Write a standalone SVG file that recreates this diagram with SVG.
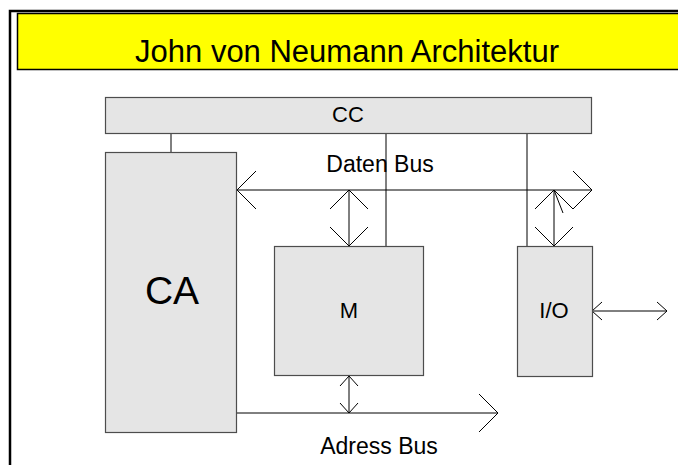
<svg xmlns="http://www.w3.org/2000/svg" width="678" height="465" viewBox="0 0 678 465">
<style>
.box{fill:#e5e5e5;stroke:#4d4d4d;stroke-width:1.2}
.ln{fill:none;stroke:#000;stroke-width:1}
.t{font-family:"Liberation Sans",Arial,sans-serif;fill:#000;text-anchor:middle}
.ah{fill:none;stroke:#000;stroke-width:1}
</style>
<defs>
<marker id="big" markerUnits="userSpaceOnUse" markerWidth="22" markerHeight="42" refX="20" refY="20" orient="auto-start-reverse" viewBox="0 0 22 42" overflow="visible">
<path class="ah" d="M1,1 L20,20 L1,39"/>
</marker>
<marker id="small" markerUnits="userSpaceOnUse" markerWidth="12" markerHeight="22" refX="11" refY="10" orient="auto-start-reverse" viewBox="0 0 12 22" overflow="visible">
<path class="ah" d="M1,1 L11,10 L1,19"/>
</marker>
</defs>
<rect width="678" height="465" fill="#fff"/>
<g id="frame">
<path d="M10,465 V11 H678" fill="none" stroke="#000" stroke-width="2.5"/>
</g>
<g id="title">
<rect x="17.5" y="13.5" width="680" height="56" fill="#ffff00" stroke="#000" stroke-width="1.5"/>
<text class="t" x="347" y="62" font-size="31">John von Neumann Architektur</text>
</g>
<g id="connectors">
<path class="ln" d="M171,134 V152"/>
<path class="ln" d="M386,134 V246"/>
<path class="ln" d="M527,134 V246"/>
<path class="ln" d="M237,190 H592" marker-start="url(#big)" marker-end="url(#big)"/>
<path class="ln" d="M349,190 V246" marker-start="url(#big)" marker-end="url(#big)"/>
<path class="ln" d="M554,190 V246" marker-start="url(#big)" marker-end="url(#big)"/>
<path class="ln" d="M554,190 L563,213"/>
<path class="ln" d="M592,311 H667" marker-start="url(#small)" marker-end="url(#small)"/>
<path class="ln" d="M237,413 H498" marker-end="url(#big)"/>
<path class="ln" d="M349,376 V413" marker-start="url(#small)" marker-end="url(#small)"/>
<text class="t" x="380" y="172" font-size="23">Daten Bus</text>
<text class="t" x="379" y="454" font-size="23">Adress Bus</text>
</g>
<g id="CC">
<rect class="box" x="105.5" y="97.5" width="486" height="36"/>
<text class="t" x="348" y="122" font-size="22">CC</text>
</g>
<g id="CA">
<rect class="box" x="105.5" y="152.5" width="131" height="280"/>
<text class="t" x="172" y="304" font-size="39">CA</text>
</g>
<g id="M">
<rect class="box" x="274.5" y="246.5" width="149" height="129"/>
<text class="t" x="349" y="318" font-size="22">M</text>
</g>
<g id="IO">
<rect class="box" x="517.5" y="246.5" width="75" height="130"/>
<text class="t" x="554" y="318" font-size="22">I/O</text>
</g>
</svg>
